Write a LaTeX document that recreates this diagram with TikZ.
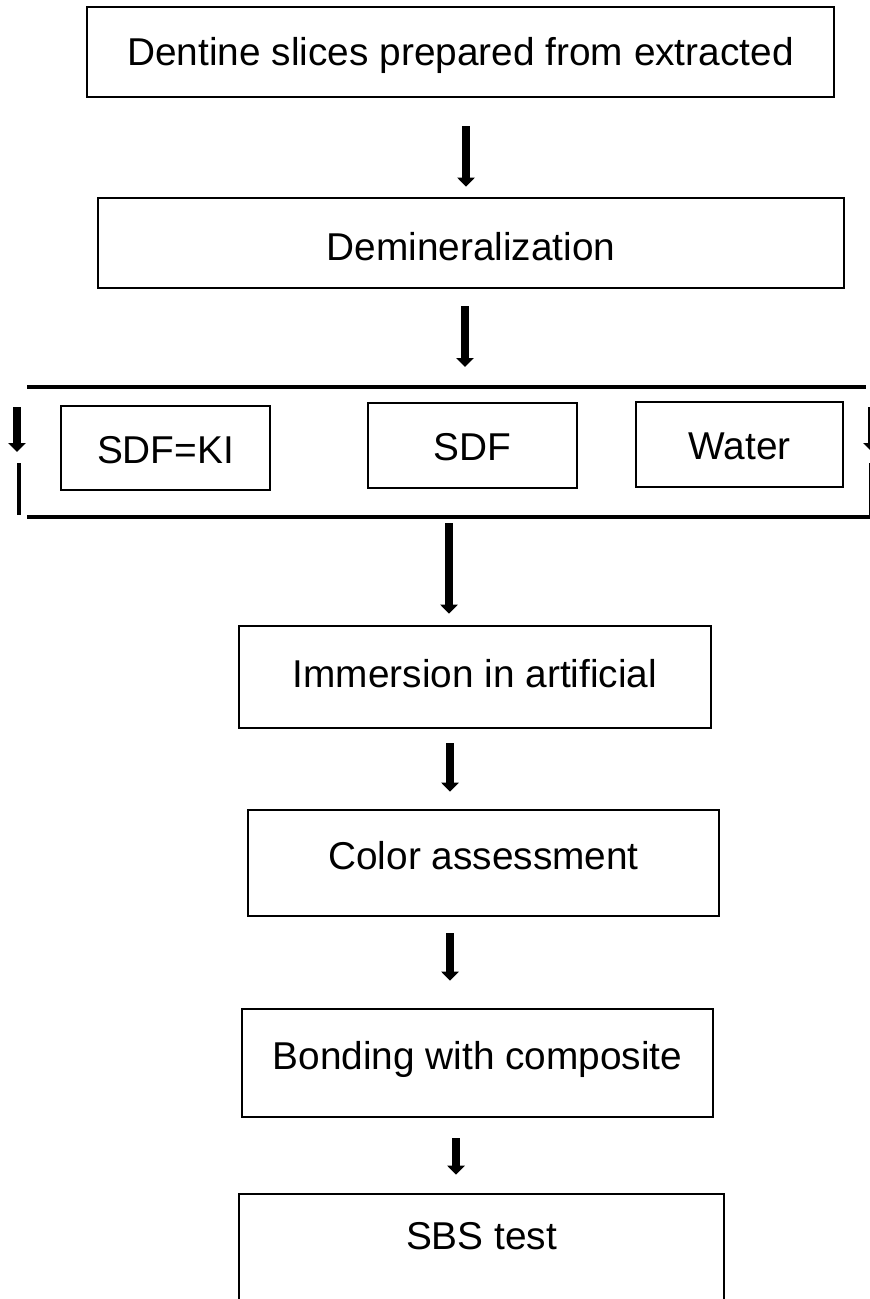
\documentclass[tikz,border=0pt]{standalone}
\usepackage{fontspec}
\setmainfont{Liberation Sans}
\usetikzlibrary{arrows.meta}
\tikzset{%
  mybox/.style={draw=black, line width=1.3pt, inner sep=0pt, text height=14pt, text depth=4pt, font=\fontsize{19.4}{23}\selectfont},
  mysmallbox/.style={mybox, text height=17pt, text depth=2pt},
  myarrow/.style={-{Triangle[width=8.5pt,length=4.5pt]}, line width=3.6pt},
  mybar/.style={line width=2.3pt}
}

\begin{document}
\begin{tikzpicture}[x=0.5pt,y=-0.5pt]
  \useasboundingbox (0,0) rectangle (870,1299);
  \clip (0,0) rectangle (870,1299);
  \node[mybox, minimum width=373.5pt, minimum height=45pt, text depth=0pt] (b1) at (460.5,52) {Dentine slices prepared from extracted};
  \node[mybox, minimum width=373pt, minimum height=45pt, text height=18pt, text depth=0pt] (b2) at (471,243) {Demineralization};
  \node[mysmallbox, minimum width=104.5pt, minimum height=42pt] (ki) at (165.5,448) {SDF=KI};
  \node[mysmallbox, minimum width=104.5pt, minimum height=42.5pt] (sdf) at (472.5,445.5) {SDF};
  \node[mysmallbox, minimum width=103.5pt, minimum height=42.5pt] (water) at (739.5,444.5) {Water};
  \node[mybox, minimum width=236pt, minimum height=51pt] (b4) at (475,677) {Immersion in artificial};
  \node[mybox, minimum width=235.5pt, minimum height=53pt, text depth=8pt] (b5) at (483.5,863) {Color assessment};
  \node[mybox, minimum width=235.5pt, minimum height=54pt, text depth=8pt] (b6) at (477.5,1063) {Bonding with composite};
  \node[mybox, minimum width=242.5pt, minimum height=54pt, text depth=13pt] (b7) at (481.5,1248) {SBS test};
  \coordinate (a2end) at (465,367);
  \coordinate (a3start) at (449,523);
  % treatment group
  \draw[mybar] (27,387) -- (866,387);
  \draw[mybar] (27,517) -- (870,517);
  \draw[myarrow] (17,407) -- (17,452);
  \draw[mybar] (19,463) -- (19,515);
  \draw[myarrow] (872,407) -- (872,452);
  \draw[mybar] (871,463) -- (871,515);
  % flow
  \draw[myarrow] ([xshift=2.75pt,yshift=-14pt]b1.south) -- ([xshift=-2.5pt,yshift=5pt]b2.north);
  \draw[myarrow] ([xshift=-3pt,yshift=-8.5pt]b2.south) -- (a2end);
  \draw[myarrow] (a3start) -- ([xshift=-13pt,yshift=5.5pt]b4.north);
  \draw[myarrow] ([xshift=-12.5pt,yshift=-7pt]b4.south) -- ([xshift=-16.75pt,yshift=8.5pt]b5.north);
  \draw[myarrow] ([xshift=-16.75pt,yshift=-8pt]b5.south) -- ([xshift=-13.75pt,yshift=13.5pt]b6.north);
  \draw[myarrow] ([xshift=-10.75pt,yshift=-10pt]b6.south) -- ([xshift=-12.75pt,yshift=9pt]b7.north);
\end{tikzpicture}
\end{document}
